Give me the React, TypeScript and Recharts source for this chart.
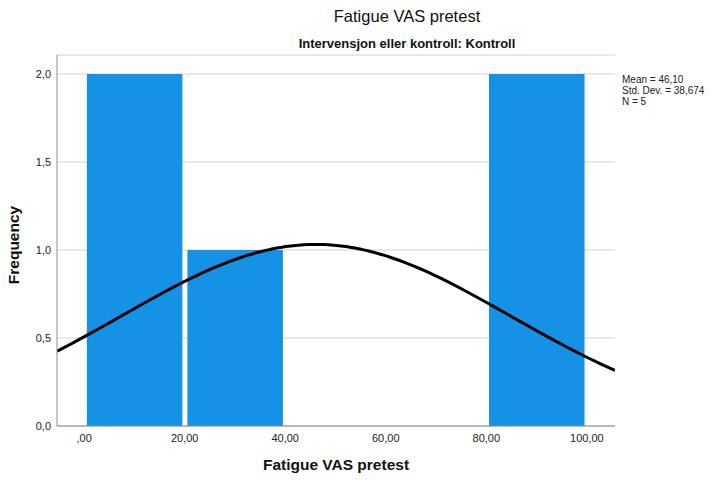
import {
  ComposedChart,
  Bar,
  Line,
  XAxis,
  YAxis,
  CartesianGrid,
} from 'recharts';

// Histogram bins (bin centre, count)
const binCenters = [10, 30, 50, 70, 90];
const binCounts = [2, 1, 0, 0, 2];

const xTicks = [0, 20, 40, 60, 80, 100];
const yTicks = [0, 0.5, 1, 1.5, 2];

// Summary statistics printed beside the plot
const MEAN = 46.1;
const STD_DEV = 38.674;
const N = 5;
const BIN_WIDTH = 20;

const X_MIN = -5.4;
const X_MAX = 105.6;

const PLOT_LEFT = 57;
const PLOT_RIGHT = 615;
const PX_PER_UNIT = (PLOT_RIGHT - PLOT_LEFT) / (X_MAX - X_MIN);
const BAR_GAP = 5;

const bins = binCenters.map((x, i) => ({ x, count: binCounts[i] }));

// Normal curve scaled to frequency (N * bin width * pdf)
const curve = Array.from({ length: 112 }, (_, i) => {
  const x = X_MIN + ((X_MAX - X_MIN) * i) / 111;
  const z = (x - MEAN) / STD_DEV;
  const y = ((N * BIN_WIDTH) / (STD_DEV * Math.sqrt(2 * Math.PI))) * Math.exp(-0.5 * z * z);
  return { x, y };
});

const font = '"Liberation Sans", Arial, sans-serif';

const fmtX = (v: number) => (v === 0 ? ',00' : v.toFixed(2).replace('.', ','));
const fmtY = (v: number) => v.toFixed(1).replace('.', ',');

// Recharts centres each bar on its bin; widen it to the full bin minus a small gap
function BinBar(props: any) {
  const { x, y, width, height, fill } = props;
  if (!height || height <= 0) return null;
  const cx = x + width / 2;
  const w = BIN_WIDTH * PX_PER_UNIT - BAR_GAP;
  return <rect x={cx - w / 2} y={y} width={w} height={height} fill={fill} />;
}

export default function App() {
  return (
    <div
      style={{
        position: 'absolute',
        left: 0,
        top: 0,
        width: 715,
        height: 480,
        fontFamily: font,
        background: '#fff',
      }}
    >
      <ComposedChart
        width={715}
        height={480}
        data={bins}
        margin={{ top: 55, right: 100, bottom: 0, left: 0 }}
      >
        <CartesianGrid vertical={false} stroke="#d2d2d2" />
        <XAxis
          dataKey="x"
          type="number"
          domain={[X_MIN, X_MAX]}
          ticks={xTicks}
          tickFormatter={fmtX}
          allowDataOverflow
          height={54}
          tickLine={false}
          axisLine={{ stroke: '#8a8a8a' }}
          tick={{ fill: '#222', fontSize: 11, fontFamily: font }}
        />
        <YAxis
          type="number"
          domain={[0, 2.108]}
          ticks={yTicks}
          tickFormatter={fmtY}
          allowDataOverflow
          width={57}
          tickLine={false}
          tickMargin={0}
          axisLine={{ stroke: '#8a8a8a' }}
          tick={{ fill: '#222', fontSize: 11, fontFamily: font }}
        />
        <Bar dataKey="count" fill="#1591e6" shape={<BinBar />} isAnimationActive={false} />
        <Line
          data={curve}
          dataKey="y"
          type="monotone"
          stroke="#000"
          strokeWidth={3}
          dot={false}
          activeDot={false}
          isAnimationActive={false}
        />
      </ComposedChart>

      <div style={{ position: 'absolute', left: 0, width: 814, top: 7, textAlign: 'center', fontSize: 16.5, color: '#111' }}>
        Fatigue VAS pretest
      </div>
      <div style={{ position: 'absolute', left: 0, width: 814, top: 36, textAlign: 'center', fontSize: 13, fontWeight: 'bold', color: '#111' }}>
        Intervensjon eller kontroll: Kontroll
      </div>
      <div style={{ position: 'absolute', left: 0, width: 672, top: 456, textAlign: 'center', fontSize: 15.5, fontWeight: 'bold', color: '#111' }}>
        Fatigue VAS pretest
      </div>
      <div
        style={{
          position: 'absolute',
          left: 14,
          top: 245,
          transform: 'translate(-50%, -50%) rotate(-90deg)',
          fontSize: 15.5,
          fontWeight: 'bold',
          color: '#111',
          whiteSpace: 'nowrap',
        }}
      >
        Frequency
      </div>
      <div style={{ position: 'absolute', left: 622, top: 74, fontSize: 10, lineHeight: '11px', color: '#222' }}>
        <div>Mean = 46,10</div>
        <div>Std. Dev. = 38,674</div>
        <div>N = 5</div>
      </div>
    </div>
  );
}
